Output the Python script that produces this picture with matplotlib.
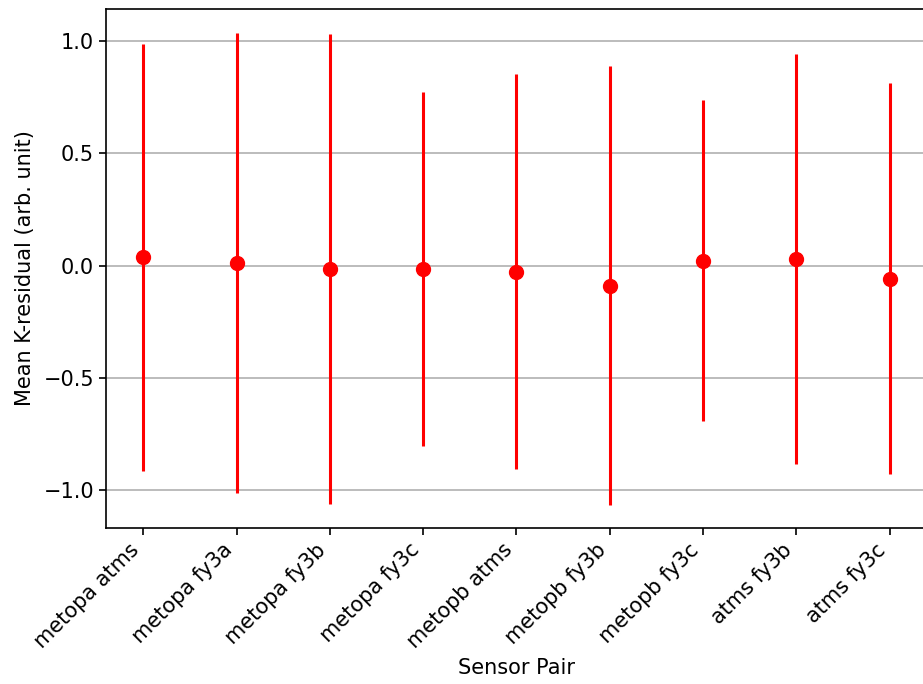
import matplotlib
matplotlib.use("Agg")
import matplotlib.pyplot as plt
import numpy as np

pairs = ["metopa atms", "metopa fy3a", "metopa fy3b", "metopa fy3c", "metopb atms",
         "metopb fy3b", "metopb fy3c", "atms fy3b", "atms fy3c"]
means = [0.036, 0.010, -0.015, -0.015, -0.027, -0.089, 0.022, 0.029, -0.058]
stds = [0.95, 1.025, 1.045, 0.79, 0.878, 0.977, 0.715, 0.912, 0.872]

fs = 15
fig = plt.figure(figsize=(9.23, 6.84), dpi=100)
ax = fig.add_axes([0.1148, 0.228, 0.8895, 0.7588])
x = np.arange(len(pairs))
ax.errorbar(x, means, yerr=stds, fmt='o', color='red', ecolor='red',
            elinewidth=2.2, markersize=10, capsize=0)
ax.set_xticks(x)
ax.set_xticklabels(pairs, rotation=45, ha='right', fontsize=fs)
ax.tick_params(axis='both', labelsize=fs, length=5, width=1.2)
ax.set_ylim(-1.169, 1.1425)
ax.set_xlim(-0.4, 8.4)
ax.set_yticks([-1.0, -0.5, 0.0, 0.5, 1.0])
ax.set_yticklabels(["\u22121.0", "\u22120.5", "0.0", "0.5", "1.0"])
ax.yaxis.grid(True, color='#b0b0b0', linewidth=1.2)
ax.set_axisbelow(True)
for s in ax.spines.values():
    s.set_linewidth(1.2)
ax.set_xlabel("Sensor Pair", fontsize=fs)
ax.set_ylabel("Mean K-residual (arb. unit)", fontsize=fs, labelpad=6)
fig.savefig("out.png", dpi=100)
